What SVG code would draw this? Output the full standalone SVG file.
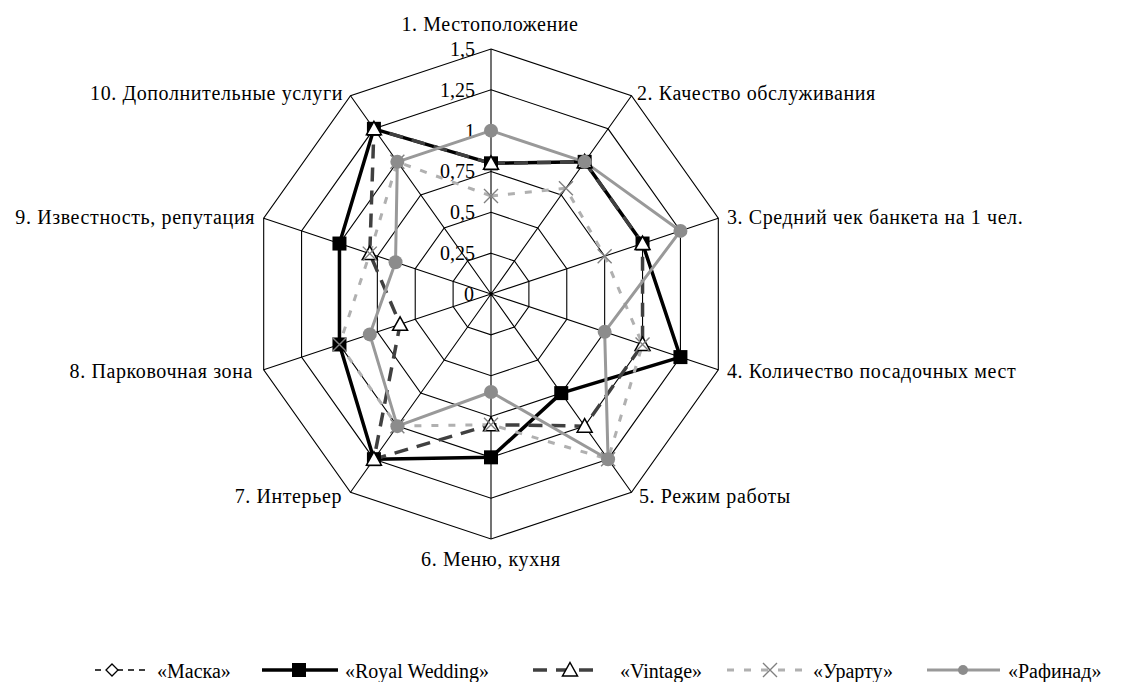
<svg xmlns="http://www.w3.org/2000/svg" xmlns:xlink="http://www.w3.org/1999/xlink" width="1127" height="682" viewBox="0 0 1127 682">
<style>
text{font-family:"Liberation Serif","Times New Roman",serif;font-size:20px;fill:#000}
.lab{letter-spacing:0.6px}
.grid{fill:none;stroke:#000;stroke-width:1.1}
.spoke{stroke:#000;stroke-width:1.1}
.royal{fill:none;stroke:#000;stroke-width:3.5;stroke-linejoin:round}
.vint{fill:none;stroke:#404040;stroke-width:3.5;stroke-dasharray:14 9}
.urar{fill:none;stroke:#b0b0b0;stroke-width:3;stroke-dasharray:7 10}
.raf{fill:none;stroke:#999;stroke-width:3;stroke-linejoin:round}
.maska{fill:none;stroke:#000;stroke-width:1.5;stroke-dasharray:6 5}
.tick{text-anchor:end}
</style>
<defs>
<rect id="sq" x="-7" y="-7" width="14" height="14" fill="#000"/>
<path id="tri" d="M0,-7.5 L7.5,6 L-7.5,6Z" fill="#fff" stroke="#000" stroke-width="1.5"/>
<path id="xm" d="M-7,-7 L7,7 M-7,7 L7,-7" stroke="#808080" stroke-width="1.4" fill="none"/>
<circle id="dot" r="7" fill="#8c8c8c"/>
<path id="dia" d="M0,-6 L6,0 L0,6 L-6,0Z" fill="#fff" stroke="#000" stroke-width="1.3"/>
</defs>
<rect width="1127" height="682" fill="#fff"/>
<g id="grid" transform="translate(491 294)">
<polygon class="grid" points="0,-40.83 23.42,-33.04 37.89,-12.62 37.89,12.62 23.42,33.04 0,40.83 -23.42,33.04 -37.89,12.62 -37.89,-12.62 -23.42,-33.04"/>
<polygon class="grid" points="0,-81.67 46.83,-66.07 75.77,-25.24 75.77,25.24 46.83,66.07 0,81.67 -46.83,66.07 -75.77,25.24 -75.77,-25.24 -46.83,-66.07"/>
<polygon class="grid" points="0,-122.5 70.25,-99.11 113.66,-37.85 113.66,37.85 70.25,99.11 0,122.5 -70.25,99.11 -113.66,37.85 -113.66,-37.85 -70.25,-99.11"/>
<polygon class="grid" points="0,-163.33 93.66,-132.14 151.54,-50.47 151.54,50.47 93.66,132.14 0,163.33 -93.66,132.14 -151.54,50.47 -151.54,-50.47 -93.66,-132.14"/>
<polygon class="grid" points="0,-204.17 117.08,-165.18 189.43,-63.09 189.43,63.09 117.08,165.18 0,204.17 -117.08,165.18 -189.43,63.09 -189.43,-63.09 -117.08,-165.18"/>
<polygon class="grid" points="0,-245 140.49,-198.21 227.31,-75.71 227.31,75.71 140.49,198.21 0,245 -140.49,198.21 -227.31,75.71 -227.31,-75.71 -140.49,-198.21"/>
<path class="spoke" d="M0,0 L0,-245 M0,0 L140.49,-198.21 M0,0 L227.31,-75.71 M0,0 L227.31,75.71 M0,0 L140.49,198.21 M0,0 L0,245 M0,0 L-140.49,198.21 M0,0 L-227.31,75.71 M0,0 L-227.31,-75.71 M0,0 L-140.49,-198.21"/>
</g>
<g id="ticks">
<text class="tick" x="475" y="56">1,5</text>
<text class="tick" x="475" y="97">1,25</text>
<text class="tick" x="475" y="138">1</text>
<text class="tick" x="475" y="178">0,75</text>
<text class="tick" x="475" y="219">0,5</text>
<text class="tick" x="475" y="260">0,25</text>
<text class="tick" x="474" y="301">0</text>
</g>
<g id="axis-labels">
<text id="ax1" class="lab" x="490" y="31" text-anchor="middle">1. Местоположение</text>
<text id="ax2" class="lab" x="637" y="100">2. Качество обслуживания</text>
<text id="ax3" class="lab" x="727" y="224">3. Средний чек банкета на 1 чел.</text>
<text id="ax4" class="lab" x="727" y="378">4. Количество посадочных мест</text>
<text id="ax5" class="lab" x="639" y="503">5. Режим работы</text>
<text id="ax6" class="lab" x="491" y="566" text-anchor="middle">6. Меню, кухня</text>
<text id="ax7" class="lab" x="342" y="503" text-anchor="end">7. Интерьер</text>
<text id="ax8" class="lab" x="253" y="378" text-anchor="end">8. Парковочная зона</text>
<text id="ax9" class="lab" x="255" y="224" text-anchor="end">9. Известность, репутация</text>
<text id="ax10" class="lab" x="343" y="100" text-anchor="end">10. Дополнительные услуги</text>
</g>
<g id="connectors" transform="translate(491 294)">
<polygon id="royal-line" class="royal" points="0,-130.67 93.66,-132.14 151.54,-50.47 189.43,63.09 70.25,99.11 0,163.33 -117.08,165.18 -151.54,50.47 -151.54,-50.47 -117.08,-165.18"/>
<polygon id="vintage-line" class="vint" points="0,-130.67 93.66,-132.14 151.54,-50.47 151.54,50.47 93.66,132.14 0,130.67 -117.08,165.18 -90.92,30.28 -121.23,-40.38 -117.08,-165.18"/>
<polygon id="urartu-line" class="urar" points="0,-98 74.93,-105.71 113.66,-37.85 151.54,50.47 117.08,165.18 0,130.67 -93.66,132.14 -151.54,50.47 -121.23,-40.38 -93.66,-132.14"/>
<polygon id="rafinad-line" class="raf" points="0,-163.33 93.66,-132.14 189.43,-63.09 113.66,37.85 117.08,165.18 0,98 -93.66,132.14 -121.23,40.38 -95.47,-31.8 -93.66,-132.14"/>
</g>
<g id="royal-markers" transform="translate(491 294)">
<use href="#sq" x="0" y="-130.67"/><use href="#sq" x="93.66" y="-132.14"/><use href="#sq" x="151.54" y="-50.47"/><use href="#sq" x="189.43" y="63.09"/><use href="#sq" x="70.25" y="99.11"/><use href="#sq" x="0" y="163.33"/><use href="#sq" x="-117.08" y="165.18"/><use href="#sq" x="-151.54" y="50.47"/><use href="#sq" x="-151.54" y="-50.47"/><use href="#sq" x="-117.08" y="-165.18"/>
</g>
<g id="vintage-markers" transform="translate(491 294)">
<use href="#tri" x="0" y="-130.67"/><use href="#tri" x="93.66" y="-132.14"/><use href="#tri" x="151.54" y="-50.47"/><use href="#tri" x="151.54" y="50.47"/><use href="#tri" x="93.66" y="132.14"/><use href="#tri" x="0" y="130.67"/><use href="#tri" x="-117.08" y="165.18"/><use href="#tri" x="-90.92" y="30.28"/><use href="#tri" x="-121.23" y="-40.38"/><use href="#tri" x="-117.08" y="-165.18"/>
</g>
<g id="urartu-markers" transform="translate(491 294)">
<use href="#xm" x="0" y="-98"/><use href="#xm" x="74.93" y="-105.71"/><use href="#xm" x="113.66" y="-37.85"/><use href="#xm" x="151.54" y="50.47"/><use href="#xm" x="117.08" y="165.18"/><use href="#xm" x="0" y="130.67"/><use href="#xm" x="-93.66" y="132.14"/><use href="#xm" x="-151.54" y="50.47"/><use href="#xm" x="-121.23" y="-40.38"/><use href="#xm" x="-93.66" y="-132.14"/>
</g>
<g id="rafinad-markers" transform="translate(491 294)">
<use href="#dot" x="0" y="-163.33"/><use href="#dot" x="93.66" y="-132.14"/><use href="#dot" x="189.43" y="-63.09"/><use href="#dot" x="113.66" y="37.85"/><use href="#dot" x="117.08" y="165.18"/><use href="#dot" x="0" y="98"/><use href="#dot" x="-93.66" y="132.14"/><use href="#dot" x="-121.23" y="40.38"/><use href="#dot" x="-95.47" y="-31.8"/><use href="#dot" x="-93.66" y="-132.14"/>
</g>
<g id="legend">
<g id="leg-maska"><line class="maska" x1="95" y1="670" x2="145" y2="670"/><use href="#dia" x="112" y="670"/><text x="157" y="678">«Маска»</text></g>
<g id="leg-royal"><line class="royal" x1="262" y1="670" x2="338" y2="670"/><use href="#sq" x="299" y="670"/><text x="345" y="678">«Royal Wedding»</text></g>
<g id="leg-vintage"><line class="vint" x1="533" y1="670" x2="597" y2="670"/><use href="#tri" x="570" y="670"/><text x="620" y="678">«Vintage»</text></g>
<g id="leg-urartu"><line class="urar" x1="727" y1="670" x2="803" y2="670"/><use href="#xm" x="770" y="670"/><text x="813" y="678">«Урарту»</text></g>
<g id="leg-rafinad"><line class="raf" x1="927" y1="670" x2="1000" y2="670"/><circle cx="963" cy="670" r="5" fill="#8c8c8c"/><text x="1008" y="678">«Рафинад»</text></g>
</g>
</svg>
